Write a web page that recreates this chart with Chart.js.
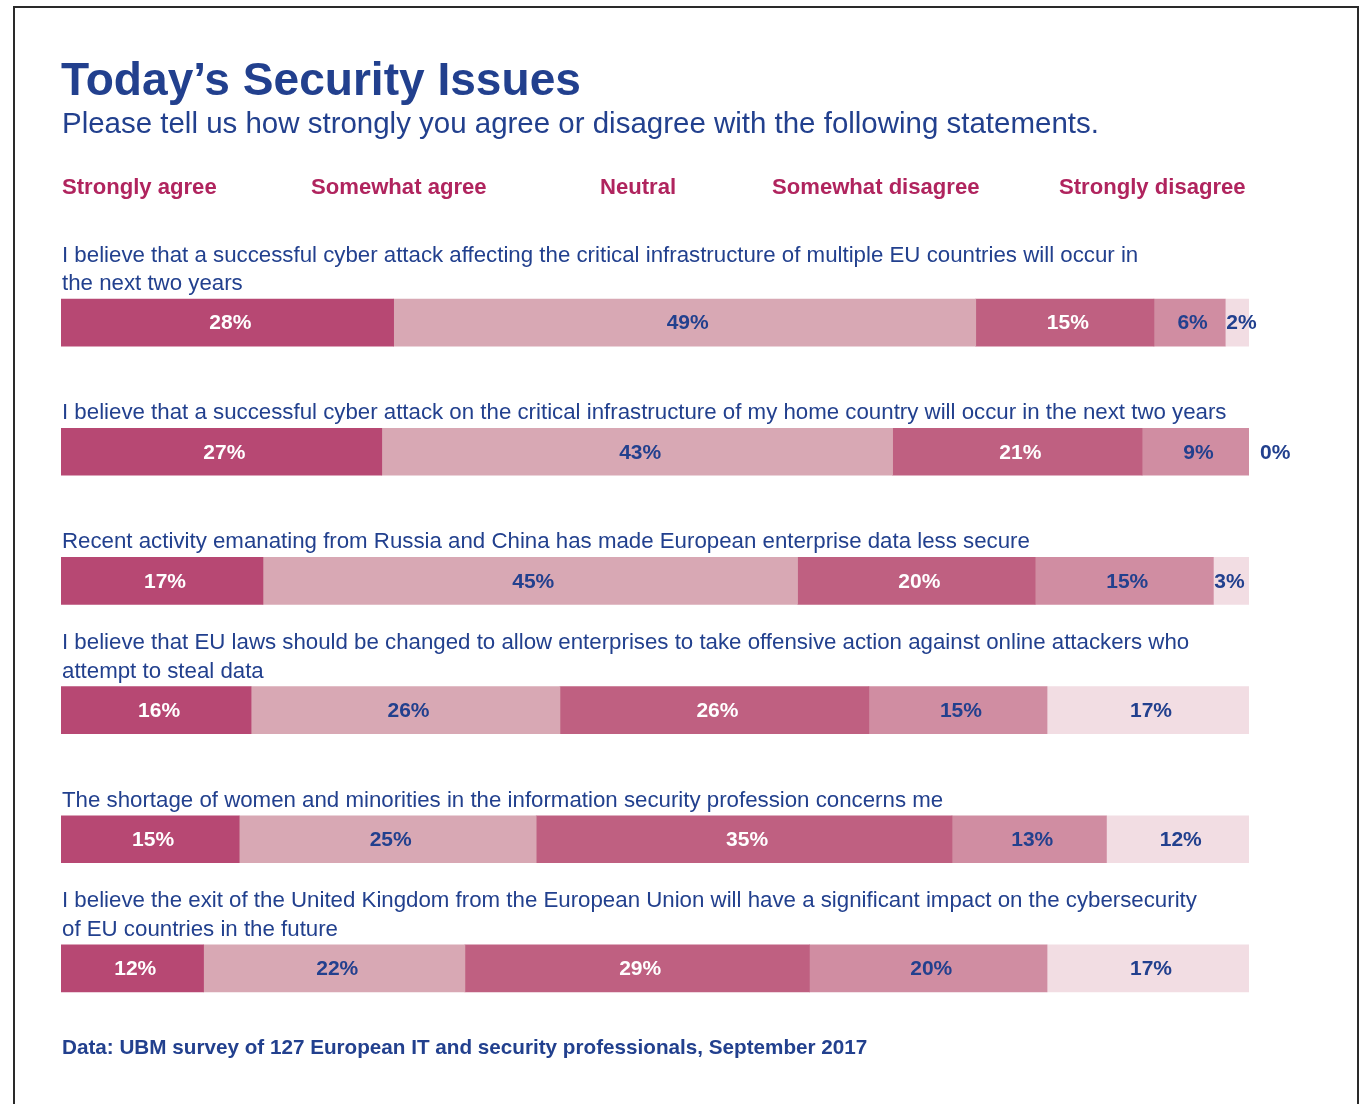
<!DOCTYPE html>
<html><head><meta charset="utf-8">
<script src="https://cdn.jsdelivr.net/npm/chart.js@4.4.0/dist/chart.umd.min.js"></script>
<style>
html,body{margin:0;padding:0;background:#fff;width:1365px;height:1104px;overflow:hidden;font-family:"Liberation Sans",Arial,sans-serif;}
#frame{position:absolute;left:13px;top:6px;width:1346px;height:1200px;border:2px solid #2a2a2a;box-sizing:border-box;}
.t{position:absolute;white-space:nowrap;line-height:1;}
#c{position:absolute;left:0;top:0;}
</style></head>
<body>
<div id="frame"></div>
<canvas id="c" width="1365" height="1104"></canvas>
<div id="title" class="t" style="font-weight:bold;color:#22408e;">Today’s Security Issues</div>
<div id="subtitle" class="t" style="color:#22408e;">Please tell us how strongly you agree or disagree with the following statements.</div>
<div id="legend"></div>
<div id="source" class="t" style="font-weight:bold;color:#22408e;">Data: UBM survey of 127 European IT and security professionals, September 2017</div>
<script>
// ---- data ----
const categories = [
  ["I believe that a successful cyber attack affecting the critical infrastructure of multiple EU countries will occur in", "the next two years"],
  ["I believe that a successful cyber attack on the critical infrastructure of my home country will occur in the next two years"],
  ["Recent activity emanating from Russia and China has made European enterprise data less secure"],
  ["I believe that EU laws should be changed to allow enterprises to take offensive action against online attackers who", "attempt to steal data"],
  ["The shortage of women and minorities in the information security profession concerns me"],
  ["I believe the exit of the United Kingdom from the European Union will have a significant impact on the cybersecurity", "of EU countries in the future"]
];
const seriesNames = ["Strongly agree", "Somewhat agree", "Neutral", "Somewhat disagree", "Strongly disagree"];
const stronglyAgree    = [28, 27, 17, 16, 15, 12];
const somewhatAgree    = [49, 43, 45, 26, 25, 22];
const neutral          = [15, 21, 20, 26, 35, 29];
const somewhatDisagree = [6, 9, 15, 15, 13, 20];
const stronglyDisagree = [2, 0, 3, 17, 12, 17];

// ---- styles ----
const BLUE = '#22408e';
const MAGENTA = '#b0245e';
const colors = ['#b74873', '#d8a8b4', '#bf6081', '#d08da2', '#f2dde3'];
const labelColors = ['#ffffff', BLUE, '#ffffff', BLUE, BLUE];
const FONT = '"Liberation Sans", Arial, sans-serif';

// ---- header text fitting ----
function fitText(el, x, baseline, targetW, fs0) {
  el.style.fontSize = fs0 + 'px';
  el.style.left = x + 'px';
  const w = el.getBoundingClientRect().width;
  const fs = fs0 * targetW / w;
  el.style.fontSize = fs + 'px';
  el.style.top = (baseline - 0.8465 * fs) + 'px';
  return fs;
}
fitText(document.getElementById('title'), 61, 95, 520, 45);
fitText(document.getElementById('subtitle'), 62, 133, 1037, 29);
fitText(document.getElementById('source'), 62, 1055, 806, 18);

// legend
const legendX = [62, 311, 600, 772, 1059];
const legendEl = document.getElementById('legend');
const legItems = seriesNames.map((n, i) => {
  const d = document.createElement('div');
  d.className = 't';
  d.textContent = n;
  d.style.fontWeight = 'bold';
  d.style.color = MAGENTA;
  d.style.fontSize = '21px';
  d.style.left = legendX[i] + 'px';
  legendEl.appendChild(d);
  return d;
});
let totW = legItems.reduce((s, d) => s + d.getBoundingClientRect().width, 0);
const legFs = 21 * 801 / totW;
legItems.forEach(d => { d.style.fontSize = legFs + 'px'; d.style.top = (195 - 0.8465 * legFs) + 'px'; });

// ---- plugins ----
const questionLabels = {
  id: 'questionLabels',
  afterDatasetsDraw(chart) {
    const ctx = chart.ctx;
    const yScale = chart.scales.y;
    ctx.save();
    let fs = 21;
    ctx.font = fs + 'px ' + FONT;
    const w = ctx.measureText(categories[1][0]).width;
    fs = fs * 1165 / w;
    ctx.font = fs + 'px ' + FONT;
    ctx.fillStyle = BLUE;
    ctx.textAlign = 'left';
    ctx.textBaseline = 'alphabetic';
    categories.forEach((lines, i) => {
      const cy = yScale.getPixelForValue(i);
      const barTop = cy - 23.5;
      const n = lines.length;
      lines.forEach((ln, j) => {
        const base = barTop - 9 - (n - 1 - j) * 28.5;
        ctx.fillText(ln, 62, base);
      });
    });
    ctx.restore();
  }
};

const valueLabels = {
  id: 'valueLabels',
  afterDatasetsDraw(chart) {
    const ctx = chart.ctx;
    ctx.save();
    ctx.font = 'bold 21px ' + FONT;
    ctx.textBaseline = 'middle';
    chart.data.datasets.forEach((ds, di) => {
      const meta = chart.getDatasetMeta(di);
      meta.data.forEach((el, i) => {
        const v = ds.data[i];
        const txt = v + '%';
        const left = Math.min(el.x, el.base), right = Math.max(el.x, el.base);
        if (v === 0) {
          ctx.fillStyle = BLUE;
          ctx.textAlign = 'left';
          ctx.fillText(txt, right + 11, el.y + 1);
        } else if (v < 5) {
          ctx.fillStyle = BLUE;
          ctx.textAlign = 'left';
          ctx.fillText(txt, left + 1, el.y + 1);
        } else {
          ctx.fillStyle = labelColors[di];
          ctx.textAlign = 'center';
          ctx.fillText(txt, (left + right) / 2 + 3, el.y + 1);
        }
      });
    });
    ctx.restore();
  }
};

const seriesData = [stronglyAgree, somewhatAgree, neutral, somewhatDisagree, stronglyDisagree];

new Chart(document.getElementById('c'), {
  type: 'bar',
  data: {
    labels: categories,
    datasets: seriesData.map((d, i) => ({
      label: seriesNames[i],
      data: d,
      backgroundColor: colors[i],
      borderWidth: 0,
      barThickness: 47
    }))
  },
  options: {
    indexAxis: 'y',
    responsive: false,
    animation: false,
    layout: { padding: { left: 61, right: 116, top: 258, bottom: 71 } },
    scales: {
      x: { stacked: true, min: 0, max: 100, display: false },
      y: { stacked: true, display: false }
    },
    plugins: { legend: { display: false }, tooltip: { enabled: false }, title: { display: false } }
  },
  plugins: [questionLabels, valueLabels]
});
</script>
</body></html>
